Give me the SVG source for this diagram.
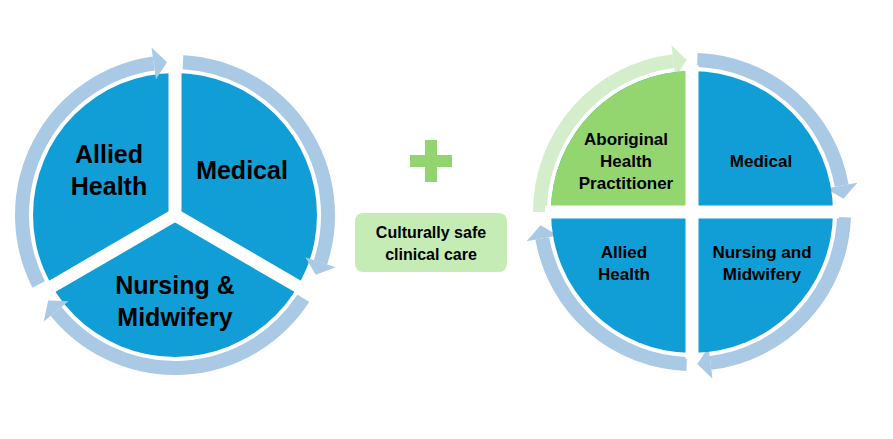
<svg xmlns="http://www.w3.org/2000/svg" width="893" height="439" viewBox="0 0 893 439">
<style>
.ring{fill:none;stroke:#a9c9e5;stroke-width:14}
.head{fill:#a9c9e5}
.gring{fill:none;stroke:#d4eecb;stroke-width:14}
.ghead{fill:#d4eecb}
.pie{fill:#119ed6}
.gap{stroke:#fff;stroke-width:13}
.t{font-family:"Liberation Sans",Arial,sans-serif;font-weight:bold;fill:#000;text-anchor:middle}
.big{font-size:25px}
.sm{font-size:17px}
</style>
<rect width="893" height="439" fill="#fff"/>
<g id="left-pie">
<circle class="pie" cx="175" cy="215" r="142"/>
<line class="gap" x1="175" y1="215" x2="175" y2="60"/>
<line class="gap" x1="175" y1="215" x2="311" y2="294"/>
<line class="gap" x1="175" y1="215" x2="39" y2="294"/>
</g>
<g id="connectors">
<path class="ring" d="M38.7,284.5 A153,153 0 0 1 153.7,63.5"/>
<polygon class="head" points="156,79.3 151.5,47.6 167,62.2"/>
<path class="ring" d="M183,62.2 A153,153 0 0 1 320.5,262.3"/>
<polygon class="head" points="305.3,257.3 335.7,267.2 315.8,274.8"/>
<path class="ring" d="M303.3,298.3 A153,153 0 0 1 56.1,311.3"/>
<polygon class="head" points="68.5,301.2 43.7,321.4 48.2,300.6"/>
<path class="gring" d="M540,212 A152,152 0 0 1 673.5,61.1"/>
<polygon class="ghead" points="675.4,77 671.5,45.3 686.7,60.1"/>
<path class="ring" d="M697.3,60.1 A152,152 0 0 1 841.7,185.6"/>
<polygon class="head" points="825.9,188.4 857.4,182.8 843.4,198.7"/>
<path class="ring" d="M843.9,217.3 A152,152 0 0 1 710.5,362.9"/>
<polygon class="head" points="708.6,347 712.5,378.7 697.3,363.9"/>
<path class="ring" d="M686.7,363.9 A152,152 0 0 1 542.3,238.4"/>
<polygon class="head" points="558.1,235.6 526.6,241.2 540.6,225.3"/>
</g>
<g id="left-labels">
<text class="t big" x="109" y="163">Allied</text>
<text class="t big" x="109" y="195">Health</text>
<text class="t big" x="242" y="179">Medical</text>
<text class="t big" x="175" y="294">Nursing &amp;</text>
<text class="t big" x="175" y="326">Midwifery</text>
</g>
<g id="plus">
<rect x="410" y="155" width="42" height="12" fill="#92d46f"/>
<rect x="425" y="140" width="12" height="42" fill="#92d46f"/>
</g>
<g id="culturally-safe">
<rect x="355" y="213" width="152" height="59" rx="8" fill="#c5ecb4"/>
<text class="t" font-size="16" x="431" y="238">Culturally safe</text>
<text class="t" font-size="16" x="431" y="260">clinical care</text>
</g>
<g id="right-pie">
<circle class="pie" cx="692" cy="212" r="141"/>
<path d="M692,212 L551,212 A141,141 0 0 1 692,71 Z" fill="#93d66f"/>
<line class="gap" x1="545" y1="212" x2="839" y2="212"/>
<line class="gap" x1="692" y1="65" x2="692" y2="359"/>
</g>
<g id="right-labels">
<text class="t sm" x="626" y="145">Aboriginal</text>
<text class="t sm" x="626" y="167">Health</text>
<text class="t sm" x="626" y="189">Practitioner</text>
<text class="t sm" x="761" y="167">Medical</text>
<text class="t sm" x="762" y="258">Nursing and</text>
<text class="t sm" x="762" y="280">Midwifery</text>
<text class="t sm" x="624" y="258">Allied</text>
<text class="t sm" x="624" y="280">Health</text>
</g>
</svg>
